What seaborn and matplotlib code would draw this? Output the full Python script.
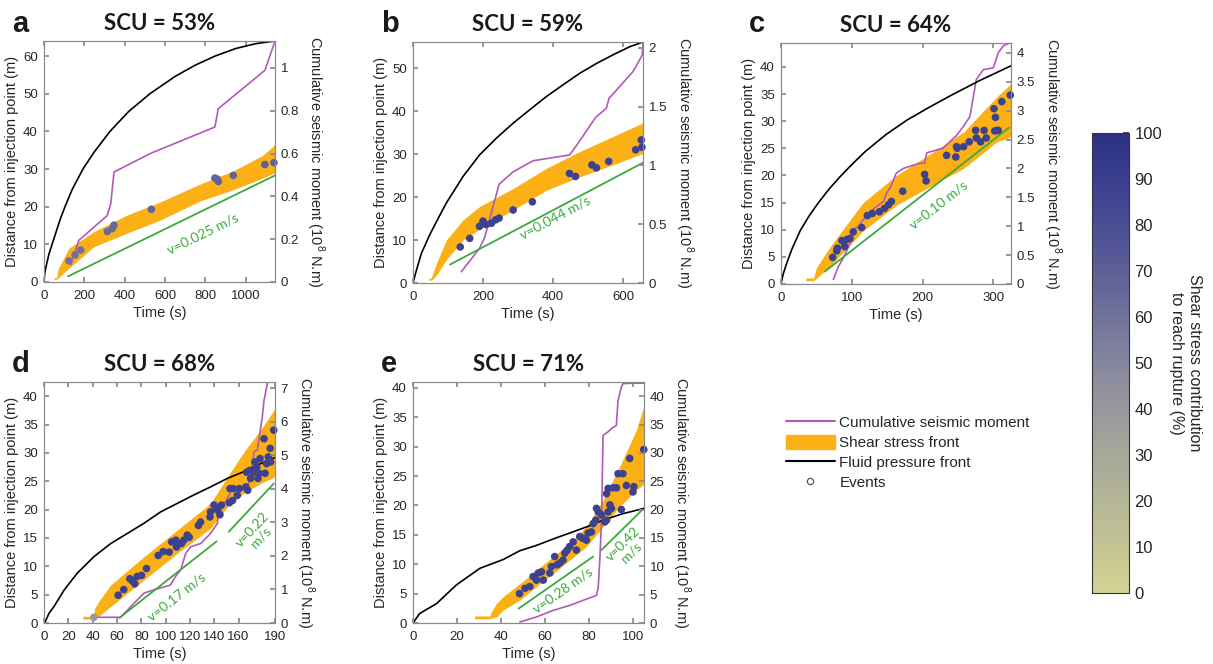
import numpy as np
import matplotlib
matplotlib.use("Agg")
import matplotlib.pyplot as plt
import seaborn as sns
from matplotlib.colors import LinearSegmentedColormap, Normalize
from matplotlib.cm import ScalarMappable
from matplotlib.lines import Line2D
from matplotlib.patches import Patch

# ---------------- values ----------------
# panel a, SCU = 53%
a_fluid_t = [0, 4, 14, 25, 40, 60, 80, 104, 140, 193, 250, 327, 420, 525, 650, 750, 848, 950, 1050, 1145]
a_fluid_d = [0, 2.5, 5, 7.5, 10, 13.3, 16.6, 20, 24.6, 30, 34.6, 40, 45.3, 50, 54.6, 57.6, 60, 62, 63.3, 64]
a_band_t = [50, 62, 70, 124, 248, 413, 578, 773, 938, 1080, 1145]
a_band_hi = [1.1, 1.2, 3.5, 9.0, 13.4, 17.8, 21.3, 26.0, 29.5, 33.5, 36.5]
a_band_lo = [0.6, 0.7, 1.0, 3.7, 9.4, 13.0, 16.5, 21.5, 24.5, 27.5, 29.0]
a_mom_t = [132, 173, 313, 331, 347, 533, 847, 864, 1095, 1145]
a_mom_m = [0.08, 0.195, 0.31, 0.366, 0.514, 0.603, 0.724, 0.81, 0.989, 1.126]
a_ev_t = [124, 154, 182, 314, 339, 347, 532, 847, 859, 864, 938, 1095, 1140]
a_ev_d = [5.6, 7.2, 8.5, 13.4, 14.2, 15.1, 19.3, 27.6, 27.3, 26.7, 28.3, 31.2, 31.7]
a_ev_c = [60, 62, 62, 65, 65, 66, 68, 68, 68, 68, 68, 70, 70]
a_vel_t = [119, 1145]
a_vel_d = [1.5, 28.3]

# panel b, SCU = 59%
b_fluid_t = [0, 9.5, 24, 47.6, 71, 95, 143, 190, 238, 286, 333, 381, 428, 476, 524, 571, 619, 657]
b_fluid_d = [0, 2.9, 6.9, 11.2, 14.9, 18.6, 24.8, 29.8, 33.7, 37.2, 40.3, 43.4, 46.1, 48.8, 51.1, 53.1,
             55.0, 56.1]
b_band_t = [45, 52, 57, 67, 95, 143, 190, 286, 381, 476, 571, 657]
b_band_hi = [1.0, 1.2, 2.3, 4.6, 10.0, 14.7, 17.8, 22.0, 26.7, 30.6, 34.1, 37.3]
b_band_lo = [0.6, 0.7, 0.9, 1.8, 5.4, 10.0, 12.5, 17.0, 21.6, 24.7, 27.5, 30.2]
b_mom_t = [138, 190, 205, 246, 286, 343, 447, 466, 522, 552, 560, 628, 647, 655, 657]
b_mom_m = [0.096, 0.294, 0.39, 0.84, 0.946, 1.04, 1.089, 1.165, 1.41, 1.485, 1.57, 1.797, 1.896, 1.94,
           2.05]
b_ev_t = [135, 162, 190, 200, 209, 224, 236, 246, 286, 341, 447, 464, 511, 524, 559, 636, 652, 654]
b_ev_d = [8.4, 10.4, 13.2, 14.4, 13.6, 13.9, 14.7, 15.1, 17.0, 18.9, 25.5, 24.8, 27.5, 26.8, 28.3, 31.0,
          33.3, 31.6]
b_ev_c = [88] * 18
b_vel_t = [106, 657]
b_vel_d = [4.3, 28.0]

# panel c, SCU = 64%
c_fluid_t = [0, 3, 8, 15, 27, 40, 53, 68, 83, 100, 119, 148, 178, 210, 241, 281, 325]
c_fluid_d = [0, 1.8, 3.8, 6.3, 9.8, 12.6, 15, 17.5, 19.7, 22.0, 24.4, 27.5, 30.2, 32.6, 34.8, 37.5, 40.2]
c_band_t = [35, 46, 50, 69, 116, 163, 211, 258, 305, 325]
c_band_hi = [1.1, 1.1, 3.0, 6.8, 15.0, 20.0, 24.0, 28.0, 34.5, 36.9]
c_band_lo = [0.6, 0.6, 1.0, 3.2, 9.8, 14.5, 18.0, 21.3, 26.2, 27.1]
c_mom_t = [74, 81, 88, 97.5, 102, 109, 116, 126, 135, 145, 149, 154, 163, 173, 196, 203, 206, 229, 248,
           258, 267, 276, 286, 300, 307, 314, 325]
c_mom_m = [0.08, 0.3, 0.45, 0.7, 0.94, 0.99, 1.11, 1.25, 1.34, 1.43, 1.57, 1.66, 1.92, 2.0, 2.09, 2.09,
           2.27, 2.35, 2.57, 2.73, 2.9, 3.54, 3.71, 3.74, 4.0, 4.12, 4.18]
c_ev_t = [73, 78.7, 79.6, 86, 90, 93, 97.5, 102, 114, 122, 129, 139, 146, 152, 156, 172, 203, 205, 234,
          247, 248, 249, 258, 266, 275, 276, 282, 287, 290, 301, 303, 302, 305, 307, 312, 324]
c_ev_d = [4.9, 6.1, 6.6, 8.0, 6.9, 8.2, 8.4, 9.6, 10.4, 12.6, 13.0, 13.3, 13.9, 14.6, 15.2, 17.1, 20.2,
          19.0, 23.7, 23.4, 25.3, 25.0, 25.3, 26.2, 28.3, 26.9, 26.2, 28.3, 26.9, 32.3, 30.7, 28.2, 28.3,
          28.3, 33.6, 34.8]
c_ev_c = [88] * 36
c_vel_t = [62, 322]
c_vel_d = [2.3, 28.8]

# panel d, SCU = 68%
d_fluid_t = [0, 1.4, 4.1, 8.2, 16.5, 27.4, 41.1, 54.8, 68.6, 82.3, 96, 109.7, 123.4, 137, 150.8, 164.5,
             178.2, 190]
d_fluid_d = [0, 0.4, 1.7, 2.9, 5.8, 8.8, 11.7, 14.0, 15.8, 17.6, 19.6, 21.1, 22.6, 24.0, 25.5, 26.7,
             28.1, 29.2]
d_band_t = [32, 41, 41.5, 45, 54.8, 82.3, 109.7, 137, 151, 164.5, 178, 190]
d_band_hi = [1.2, 1.2, 2.5, 3.8, 6.7, 11.7, 16.4, 21.1, 25.8, 30.2, 34.0, 37.8]
d_band_lo = [0.7, 0.7, 0.8, 1.2, 2.9, 7.6, 12.3, 16.7, 20.5, 22.9, 24.6, 25.8]
d_mom_t = [41, 63, 72.7, 82.3, 90.5, 104, 108, 112.4, 116.5, 120.6, 129, 137, 142.6, 144, 149.4, 153.6,
           157.7, 163, 167.3, 170, 171.4, 172.8, 175.5, 179.6, 181, 183.2, 184.3]
d_mom_m = [0.17, 0.17, 0.54, 0.89, 0.99, 1.13, 1.38, 1.58, 2.07, 2.27, 2.37, 2.67, 2.97, 3.51, 3.61,
           3.91, 3.96, 3.96, 4.06, 4.36, 4.76, 5.10, 5.15, 6.15, 6.64, 7.04, 7.24]
d_ev_t = [41, 61, 65.6, 70.6, 72.8, 74.7, 76.6, 80.2, 84.3, 93.9, 98, 103, 105, 108.5, 109, 113, 115,
          117.8, 119.4, 127, 128.8, 136.5, 137, 139.8, 142, 143, 144.7, 146, 152.4, 153, 155, 155.7,
          159, 160.6, 166, 167.5, 166.7, 169, 170, 172.7, 173.5, 175, 176, 177, 177.7, 181, 181.8,
          183, 184.5, 186, 186.4, 189]
d_ev_d = [1.0, 4.9, 5.9, 7.8, 7.4, 6.9, 8.2, 8.4, 9.6, 11.9, 12.6, 12.5, 14.3, 14.6, 13.4, 14.0, 14.6,
          15.5, 15.1, 17.2, 17.8, 18.7, 19.6, 20.8, 20.2, 19.9, 19.1, 20.8, 21.2, 23.7, 21.6, 23.7,
          22.5, 23.7, 24.0, 23.4, 26.6, 26.9, 25.5, 26.6, 28.4, 27.5, 25.5, 26.4, 29.0, 32.5, 26.4,
          28.1, 29.3, 30.8, 28.4, 34.0]
d_ev_c = [40] + [88] * 51
d_vel1_t = [62, 142]
d_vel1_d = [0.9, 14.4]
d_vel2_t = [152, 189]
d_vel2_d = [16.1, 24.6]

# panel e, SCU = 71%
e_fluid_t = [0, 3, 10.7, 19.8, 30.4, 41, 48.6, 56.1, 65.2, 71.2, 80, 86.4, 95.4, 105]
e_fluid_d = [0, 1.6, 3.3, 6.5, 9.3, 10.8, 12.3, 13.2, 14.5, 15.3, 16.5, 17.5, 18.6, 19.5]
e_band_t = [28, 35, 35.5, 37.9, 41, 48.6, 56.1, 63.7, 71.2, 78.8, 86.4, 93.9, 101.5, 105]
e_band_hi = [1.2, 1.2, 1.8, 3.3, 4.5, 6.7, 9.0, 11.3, 13.5, 16.4, 20.9, 26.6, 32.8, 37.0]
e_band_lo = [0.7, 0.7, 0.8, 1.0, 2.2, 3.9, 6.2, 8.4, 10.7, 13.0, 16.4, 19.8, 22.6, 23.7]
e_mom_t = [48.6, 56.1, 63.7, 71.2, 77.3, 83.4, 84.2, 84.9, 85.7, 86.4, 88.6, 90.9, 92.4, 93.2, 94.7,
           95.4, 100, 105]
e_mom_m = [0.18, 1.06, 2.23, 3.1, 3.99, 4.87, 6.3, 11, 18.1, 33.1, 33.7, 34.5, 34.8, 39.2, 41.6,
           42.2, 42.3, 42.3]
e_ev_t = [48.4, 50.9, 53.1, 54.6, 56.1, 56.9, 58.4, 59.2, 62.2, 62.9, 64.4, 65.5, 66.7, 68.2, 69.0,
          70.1, 71.2, 72.8, 74.3, 75.8, 77.3, 78.8, 79.6, 81.1, 81.9, 83.1, 83.4, 84.2, 85.7, 87.2,
          88.0, 88.7, 89.5, 90.2, 88.0, 88.7, 91.0, 92.5, 94.7, 93.2, 95.4, 97.0, 100.0, 100.4, 98.5,
          104.9]
e_ev_d = [5.0, 5.9, 6.2, 7.9, 7.3, 8.5, 8.7, 7.3, 8.5, 9.6, 11.3, 9.9, 10.2, 10.7, 11.9, 12.4, 13.0,
          13.8, 12.4, 14.7, 14.4, 14.1, 15.3, 15.5, 16.9, 17.5, 19.5, 18.9, 18.4, 17.2, 17.5, 18.9,
          20.1, 19.5, 22.0, 22.9, 23.0, 23.0, 19.3, 25.4, 25.4, 23.4, 22.3, 23.2, 28.0, 29.5]
e_ev_c = [88] * 46
e_vel1_t = [48, 81.9]
e_vel1_d = [2.45, 11.3]
e_vel2_t = [85.6, 104.9]
e_vel2_d = [12.4, 19.5]

cbar_ticks = list(range(0, 101, 10))

# ---------------- style ----------------
sns.set_theme(style="white")
plt.rcParams['font.family'] = ['Liberation Sans', 'DejaVu Sans']
plt.rcParams['mathtext.fontset'] = 'custom'
plt.rcParams['mathtext.rm'] = 'Liberation Sans'
plt.rcParams['axes.edgecolor'] = '#8a8a8a'
plt.rcParams['axes.linewidth'] = 0.8

ORANGE = '#fbb116'
PURPLE = '#b05ab8'
GREEN = '#3aaa3a'
TXT = '#262626'

cmap = LinearSegmentedColormap.from_list('scu', [
    '#d2d393', '#c3c493', '#b5b696', '#a6a799', '#97989c', '#85869d',
    '#72739b', '#5d5f98', '#4b4e95', '#3a3f8f', '#2b3187'])

W, H = 1213, 664


def rect(l, t, r, b):
    return [l / W, 1 - b / H, (r - l) / W, (b - t) / H]


panels = [
    dict(letter='a', title='SCU = 53%', box=(44, 41, 275, 282),
         xlim=1145, xticks=range(0, 1001, 200), ylim=64, yticks=range(0, 61, 10),
         y2lim=1.126, y2ticks=[0, 0.2, 0.4, 0.6, 0.8, 1],
         fluid=(a_fluid_t, a_fluid_d), band=(a_band_t, a_band_lo, a_band_hi),
         mom=(a_mom_t, a_mom_m), ev=(a_ev_t, a_ev_d, a_ev_c), vel=[(a_vel_t, a_vel_d)],
         notes=[('v=0.025 m/s', 789, 12.8, 26)]),
    dict(letter='b', title='SCU = 59%', box=(413, 42, 643, 283),
         xlim=657, xticks=range(0, 601, 200), ylim=56.1, yticks=range(0, 51, 10),
         y2lim=2.05, y2ticks=[0, 0.5, 1, 1.5, 2],
         fluid=(b_fluid_t, b_fluid_d), band=(b_band_t, b_band_lo, b_band_hi),
         mom=(b_mom_t, b_mom_m), ev=(b_ev_t, b_ev_d, b_ev_c), vel=[(b_vel_t, b_vel_d)],
         notes=[('v=0.044 m/s', 405, 15.2, 28)]),
    dict(letter='c', title='SCU = 64%', box=(781, 43, 1011, 284),
         xlim=325, xticks=range(0, 301, 100), ylim=44.4, yticks=range(0, 41, 5),
         y2lim=4.17, y2ticks=[0, 0.5, 1, 1.5, 2, 2.5, 3, 3.5, 4],
         fluid=(c_fluid_t, c_fluid_d), band=(c_band_t, c_band_lo, c_band_hi),
         mom=(c_mom_t, c_mom_m), ev=(c_ev_t, c_ev_d, c_ev_c), vel=[(c_vel_t, c_vel_d)],
         notes=[('v=0.10 m/s', 223, 14.5, 38)]),
    dict(letter='d', title='SCU = 68%', box=(44, 382, 275, 623),
         xlim=190, xticks=[0, 20, 40, 60, 80, 100, 120, 140, 160, 190], ylim=42.5,
         yticks=range(0, 41, 5), y2lim=7.18, y2ticks=range(0, 8),
         fluid=(d_fluid_t, d_fluid_d), band=(d_band_t, d_band_lo, d_band_hi),
         mom=(d_mom_t, d_mom_m), ev=(d_ev_t, d_ev_d, d_ev_c),
         vel=[(d_vel1_t, d_vel1_d), (d_vel2_t, d_vel2_d)],
         notes=[('v=0.17 m/s', 109, 4.6, 38), ('v=0.22\nm/s', 175, 15.8, 47)]),
    dict(letter='e', title='SCU = 71%', box=(413, 382, 644, 623),
         xlim=105, xticks=range(0, 101, 20), ylim=41, yticks=range(0, 41, 5),
         y2lim=42.5, y2ticks=range(0, 41, 5),
         fluid=(e_fluid_t, e_fluid_d), band=(e_band_t, e_band_lo, e_band_hi),
         mom=(e_mom_t, e_mom_m), ev=(e_ev_t, e_ev_d, e_ev_c),
         vel=[(e_vel1_t, e_vel1_d), (e_vel2_t, e_vel2_d)],
         notes=[('v=0.28 m/s', 68, 5.6, 35), ('v=0.42\nm/s', 97.3, 12.7, 45)]),
]

fig = plt.figure(figsize=(W / 100, H / 100), dpi=100)

for p in panels:
    ax = fig.add_axes(rect(*p['box']))
    ax2 = ax.twinx()
    ax.set_xlim(0, p['xlim'])
    ax.set_ylim(0, p['ylim'])
    ax2.set_ylim(0, p['y2lim'])

    bt, blo, bhi = p['band']
    ax.fill_between(bt, blo, bhi, color=ORANGE, lw=0, zorder=1)

    # moment is in right-axis units, drawn under the events
    mt, mm = p['mom']
    ax.plot(mt, mm, color=PURPLE, lw=1.2, transform=ax2.transData, zorder=2)

    for vt, vd in p['vel']:
        sns.lineplot(x=vt, y=vd, ax=ax, color=GREEN, lw=1.3, estimator=None, sort=False, zorder=2)

    ft, fd = p['fluid']
    sns.lineplot(x=ft, y=fd, ax=ax, color='black', lw=1.2, estimator=None, sort=False, zorder=2.5)

    et, ed, ec = p['ev']
    sns.scatterplot(x=et, y=ed, hue=ec, palette=cmap, hue_norm=(0, 100), s=30,
                    edgecolor='none', legend=False, ax=ax, zorder=3, clip_on=False)

    for txt, tx, ty, rot in p['notes']:
        ax.text(tx, ty, txt, color=GREEN, fontsize=10, rotation=rot, rotation_mode='anchor',
                ha='center', va='center', family=['Lato', 'DejaVu Sans'], linespacing=1.0)

    ax.set_xlim(0, p['xlim'])
    ax.set_ylim(0, p['ylim'])
    ax.set_xticks(list(p['xticks']))
    ax.set_yticks(list(p['yticks']))
    ax2.set_yticks(list(p['y2ticks']))
    ax2.set_yticklabels(['%g' % v for v in p['y2ticks']])
    ax.tick_params(axis='x', direction='in', top=True, bottom=True, length=3.5,
                   color='#8a8a8a', labelsize=9.5, labelcolor=TXT, pad=5.5)
    ax.tick_params(axis='y', direction='in', left=True, right=False, length=3.5,
                   color='#8a8a8a', labelsize=9.5, labelcolor=TXT, pad=4.5)
    ax2.tick_params(axis='y', direction='in', right=True, length=3.5,
                    color='#8a8a8a', labelsize=9.5, labelcolor=TXT, pad=4)
    for sp in ax2.spines.values():
        sp.set_color('#8a8a8a')

    ax.set_xlabel('Time (s)', fontsize=10.5, color=TXT, labelpad=3)
    ax.set_ylabel('Distance from injection point (m)', fontsize=10.5, color=TXT, labelpad=3)
    ax2.set_ylabel('Cumulative seismic moment (10$^{8}$ N.m)', fontsize=10.5, color=TXT,
                   rotation=270, va='bottom', labelpad=4)

    ax.set_title(p['title'], fontsize=16, fontweight='bold', color='#1a1a1a', pad=8,
                 family=['Lato', 'Liberation Sans'])
    l, t, r, b = p['box']
    fig.text((l - 32) / W, 1 - 24 / H if t < 100 else 1 - 364 / H, p['letter'], fontsize=21,
             fontweight='bold', color='#1a1a1a', ha='left', va='center',
             family=['Liberation Sans'])

# legend
handles = [
    Line2D([], [], color=PURPLE, lw=1.5),
    Patch(facecolor=ORANGE, edgecolor=ORANGE),
    Line2D([], [], color='black', lw=1.5),
    Line2D([], [], ls='none', marker='o', mfc='none', mec='#555555', ms=4.5, mew=0.9),
]
labels = ['Cumulative seismic moment', 'Shear stress front', 'Fluid pressure front', 'Events']
fig.legend(handles, labels, loc='upper left', bbox_to_anchor=(786 / W, 1 - 415 / H),
           frameon=False, fontsize=11, handlelength=3.2, handleheight=1.05, handletextpad=0.3,
           labelspacing=0.3, borderaxespad=0, borderpad=0)

# colorbar
cax = fig.add_axes(rect(1092, 133, 1129, 593))
cb = fig.colorbar(ScalarMappable(norm=Normalize(0, 100), cmap=cmap), cax=cax, ticks=cbar_ticks)
cb.outline.set_edgecolor('#333333')
cb.outline.set_linewidth(0.8)
cb.ax.tick_params(labelsize=12, length=4, direction='in', color='#333333', labelcolor=TXT, pad=4)
cb.set_label('Shear stress contribution\nto reach rupture (%)', rotation=270, va='bottom',
             fontsize=11.5, color=TXT, labelpad=5)

fig.savefig('out.png', dpi=100)
